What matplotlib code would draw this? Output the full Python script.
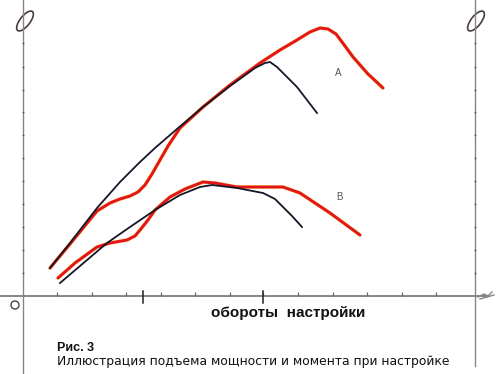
import numpy as np
import matplotlib.pyplot as plt
from matplotlib.patches import Ellipse, Circle

# units: x = engine speed (arbitrary), y = power / torque (arbitrary)
red_a_x = [28, 48, 75, 88, 98, 108, 116, 123, 130, 138, 146, 158, 181, 208, 238, 258, 275, 288, 298, 306, 314, 323, 331, 346, 361]
red_a_y = [28, 52, 85, 93, 97, 100, 104, 111, 122, 136, 150, 168, 189, 211, 233, 246, 256, 264, 268, 267, 262, 250, 239, 222, 208]

black_a_x = [28, 48, 75, 98, 118, 133, 155, 181, 208, 233, 243, 248, 255, 265, 275, 285, 295]
black_a_y = [28, 53, 88, 114, 134, 148, 167, 189, 210, 228, 233, 234, 229, 219, 209, 196, 183]

red_b_x = [36, 53, 75, 88, 105, 113, 118, 126, 133, 148, 163, 181, 193, 215, 238, 261, 278, 293, 308, 323, 338]
red_b_y = [18, 33, 49, 53, 56, 60, 66, 76, 86, 99, 107, 114, 113, 109, 109, 109, 103, 93, 83, 72, 61]

black_b_x = [38, 58, 85, 108, 133, 158, 178, 190, 215, 241, 253, 261, 270, 280]
black_b_y = [13, 30, 53, 69, 86, 101, 109, 111, 108, 103, 97, 89, 80, 69]

small_ticks_x = [35, 70, 104, 139, 173, 208, 241, 276, 311, 345, 380, 414]
big_ticks_x = [121, 241]
y_ticks = [23, 46, 69, 92, 115, 138, 161, 184, 206, 229, 253]

xlabel = 'обороты  настройки'
fig_no = 'Рис. 3'
caption = 'Иллюстрация подъема мощности и момента при настройке'

plt.rcParams['font.family'] = ['Liberation Sans', 'DejaVu Sans']

fig = plt.figure(figsize=(5, 3.74), dpi=100)
ax = fig.add_axes([0, 0, 1, 1])
ax.set_xlim(-22, 478)
ax.set_ylim(-78, 296)
ax.axis('off')

axis_col = '#8c8386'
# axes frame (hand drawn)
ax.plot([-22, 466], [0, 0], color=axis_col, lw=1.4)
ax.plot([1, 1], [-78, 296], color=axis_col, lw=1.0)
ax.plot([453, 453], [-70, 296], color=axis_col, lw=1.0)
ax.plot([456, 462, 466, 470], [-1, 2, 0, 4], color=axis_col, lw=1)
ax.plot([458, 472], [-3, 1], color=axis_col, lw=1)

ax.plot(small_ticks_x, [2] * len(small_ticks_x), ls='none', marker='|', ms=2.5, color='#666', mew=0.9)
for bx in big_ticks_x:
    ax.plot([bx, bx], [-7, 5], color='#222', lw=1.1)
ax.plot([1] * len(y_ticks), y_ticks, ls='none', marker='o', ms=1.3, color='#555', mew=0)
ax.plot([453] * len(y_ticks), y_ticks, ls='none', marker='o', ms=1.3, color='#555', mew=0)

ax.add_patch(Ellipse((3, 275), 24, 10, angle=52, fill=False, ec='#4a3a44', lw=1.2))
ax.add_patch(Ellipse((454, 275), 24, 10, angle=52, fill=False, ec='#4a3a44', lw=1.2))
ax.add_patch(Circle((-7, -9), 4, fill=False, ec='#444', lw=1))

# curves
ax.plot(red_a_x, red_a_y, color='#f2c21a', lw=2.7, solid_capstyle='round', alpha=0.6)
ax.plot(red_a_x, red_a_y, color='#e3151b', lw=2.1, solid_capstyle='round')
ax.plot(black_a_x, black_a_y, color='#16162a', lw=1.3)
ax.plot(red_b_x, red_b_y, color='#f2c21a', lw=2.7, solid_capstyle='round', alpha=0.6)
ax.plot(red_b_x, red_b_y, color='#e3151b', lw=2.1, solid_capstyle='round')
ax.plot(black_b_x, black_b_y, color='#16162a', lw=1.3)

ax.text(316, 223, 'A', fontsize=7, color='#555', ha='center', va='center')
ax.text(317, 99, 'B', fontsize=7, color='#555', ha='center', va='center')

ax.text(266, -17, xlabel, fontsize=11, fontweight='bold', color='#111', ha='center', va='center')
ax.text(35, -52, fig_no, fontsize=9, fontweight='bold', color='#111', ha='left', va='center')
ax.text(35, -65, caption, fontsize=8.9, color='#111', ha='left', va='center',
        family=['DejaVu Sans'])

fig.savefig('out.png', dpi=100)
